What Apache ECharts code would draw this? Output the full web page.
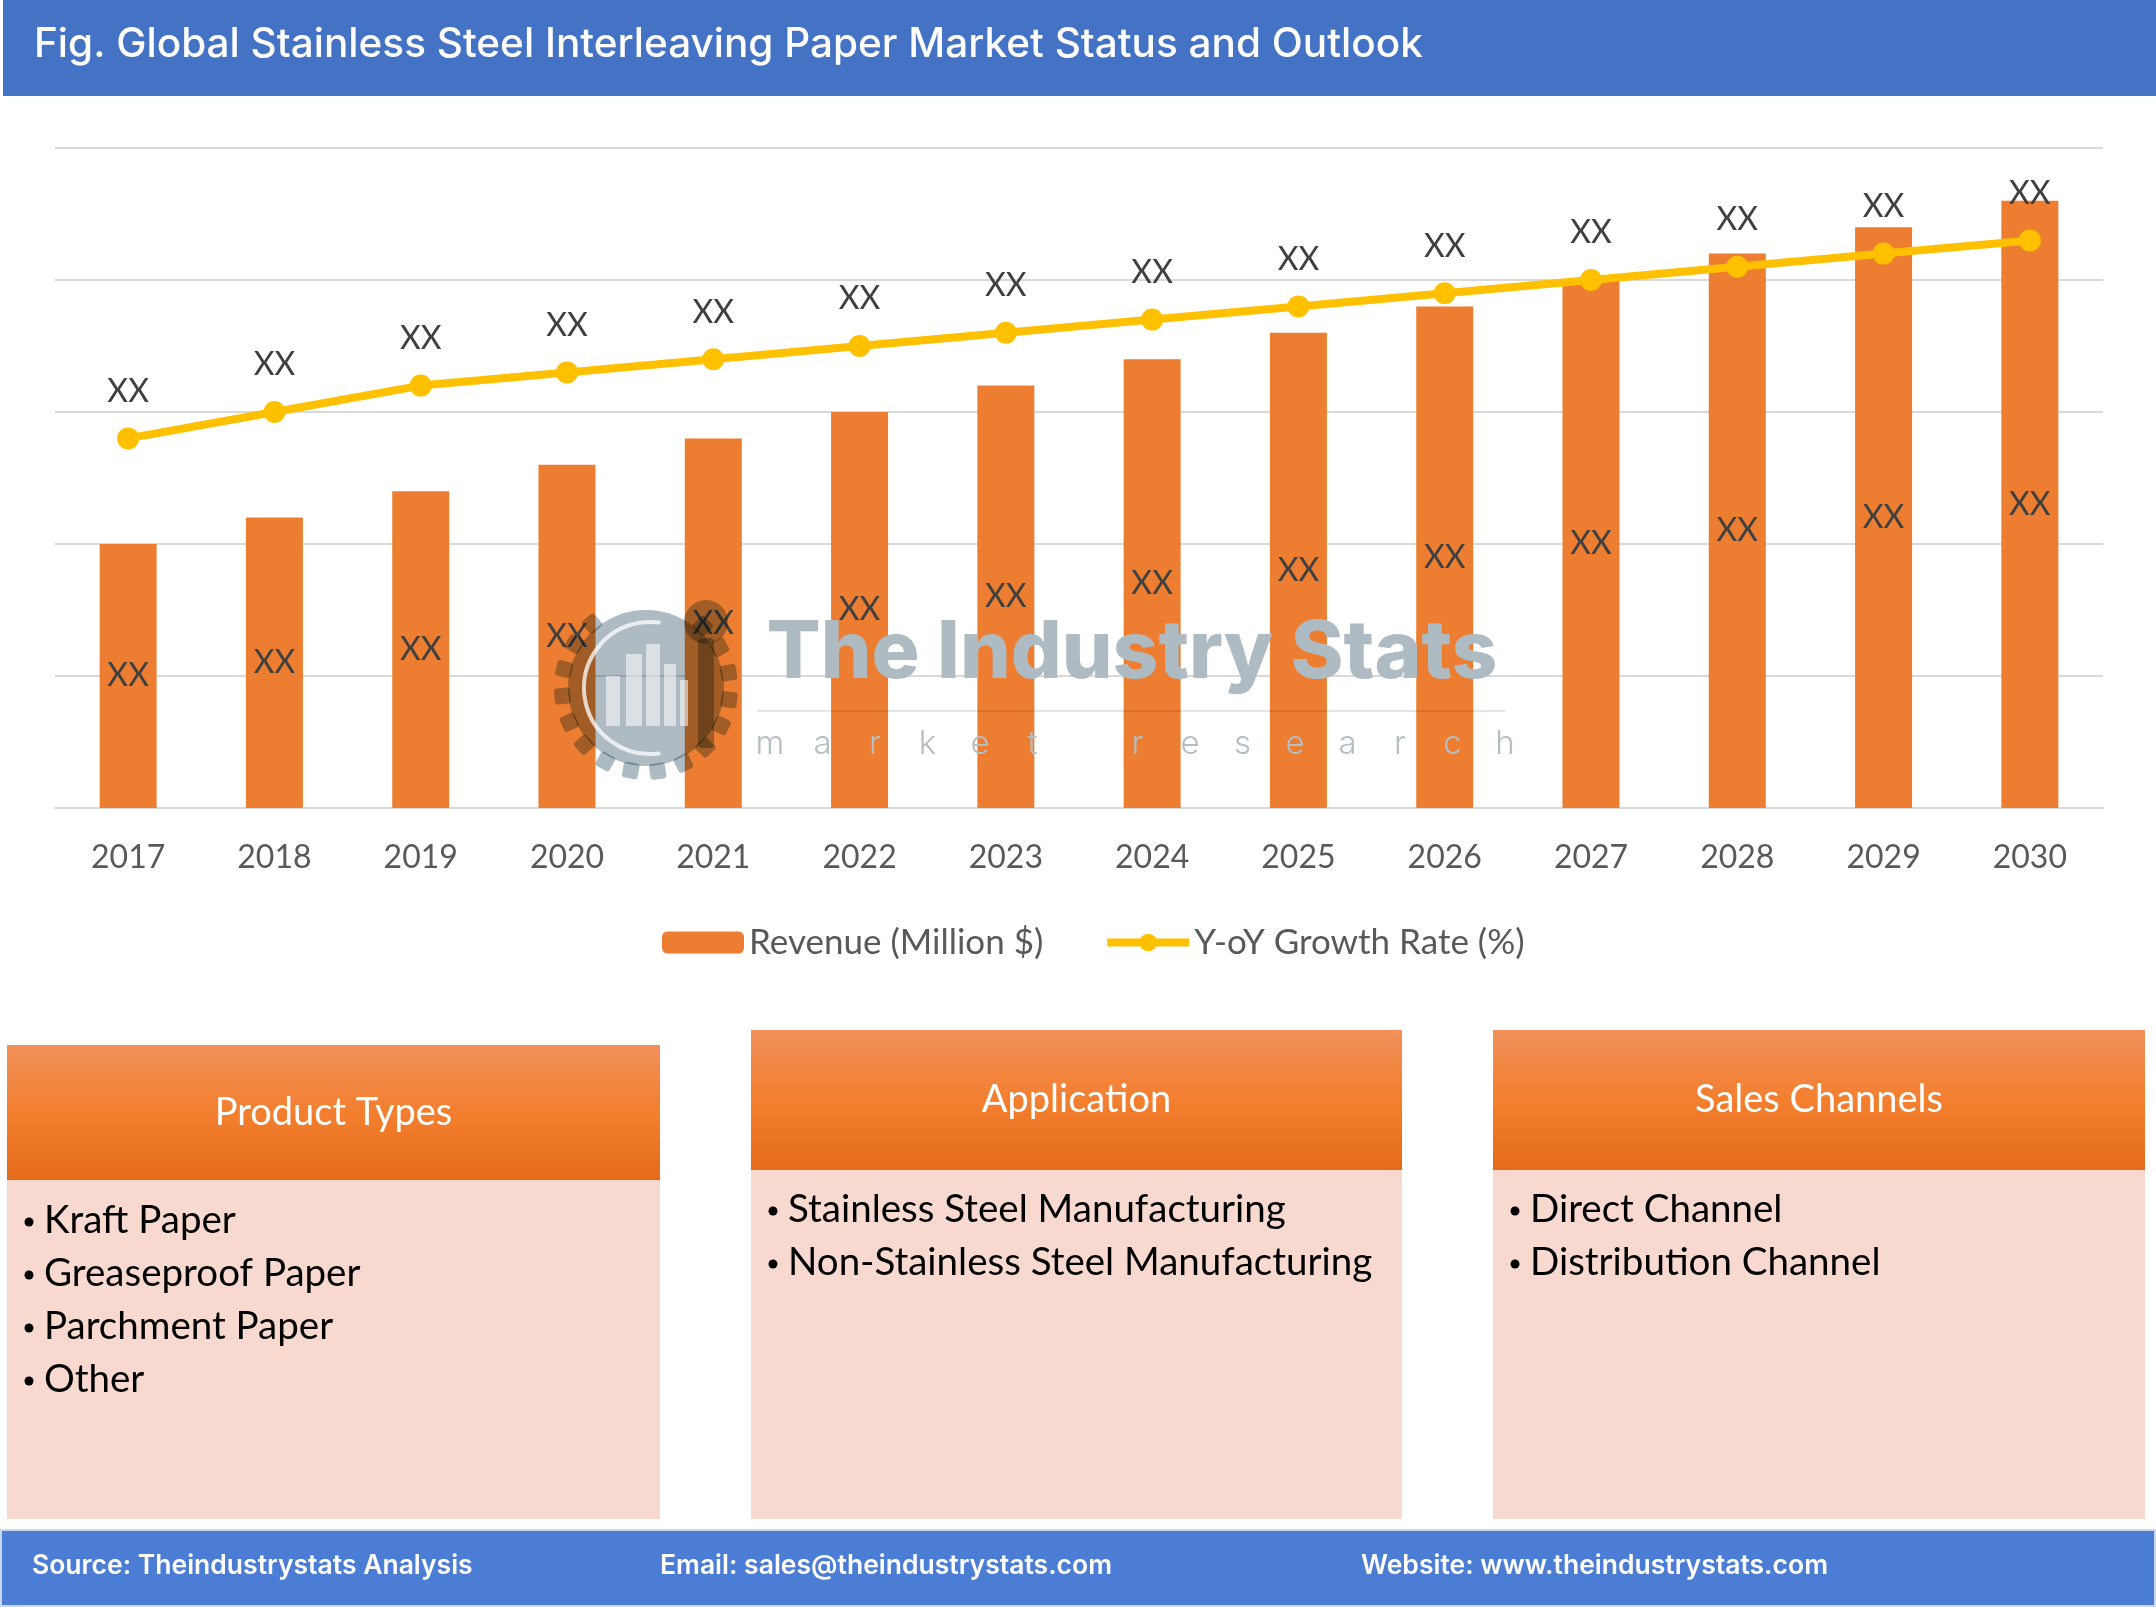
<!DOCTYPE html>
<html><head><meta charset="utf-8">
<script src="https://cdn.jsdelivr.net/npm/echarts@6.0.0/dist/echarts.min.js"></script>
<style>html,body{margin:0;padding:0;background:#fff}#c{width:2156px;height:1607px}</style>
</head><body><div id="c"></div>
<script>
// ---- data ----
const years = ['2017','2018','2019','2020','2021','2022','2023','2024','2025','2026','2027','2028','2029','2030'];
const revenue = [20, 22, 24, 26, 28, 30, 32, 34, 36, 38, 40, 42, 44, 46];
const growth = [2.8, 3.0, 3.2, 3.3, 3.4, 3.5, 3.6, 3.7, 3.8, 3.9, 4.0, 4.1, 4.2, 4.3];
const pointLabel = 'XX';
const seriesNames = ['Revenue (Million $)', 'Y-oY Growth Rate (%)'];
const titleText = 'Fig. Global Stainless Steel Interleaving Paper Market Status and Outlook';
const productTypes = ['Kraft Paper', 'Greaseproof Paper', 'Parchment Paper', 'Other'];
const applications = ['Stainless Steel Manufacturing', 'Non-Stainless Steel Manufacturing'];
const salesChannels = ['Direct Channel', 'Distribution Channel'];
const footerTexts = ['Source: Theindustrystats Analysis', 'Email: sales@theindustrystats.com', 'Website: www.theindustrystats.com'];
const watermarkMain = 'The Industry Stats';
const watermarkSub = 'market research';

// ---- layout / style ----
const FONT = 'Lato, "Open Sans", sans-serif';
const chart = echarts.init(document.getElementById('c'), null, {renderer: 'canvas', width: 2156, height: 1607});

const graphics = [];
// title bar
graphics.push({type: 'rect', shape: {x: 3, y: 0, width: 2153, height: 96}, style: {fill: '#4472C4'}, z: 1});
graphics.push({type: 'text', x: 34, y: 45, style: {text: titleText, fill: '#fff', font: '500 40.5px Inter, sans-serif', textVerticalAlign: 'middle'}, z: 2});

// boxes
const headerGrad = new echarts.graphic.LinearGradient(0, 0, 0, 1, [
  {offset: 0, color: '#F0905A'}, {offset: 0.5, color: '#F37F2F'}, {offset: 1, color: '#E46B1A'}]);
function box(x, w, hy, hh, by, title, items, itemY0) {
  graphics.push({type: 'rect', shape: {x: x, y: by, width: w, height: 1519 - by}, style: {fill: '#F8D9CF'}, z: 1});
  graphics.push({type: 'rect', shape: {x: x, y: hy, width: w, height: hh}, style: {fill: headerGrad}, z: 2});
  graphics.push({type: 'text', x: x + w / 2, y: hy + hh / 2, style: {text: title, fill: '#fff', font: '38px ' + FONT, textAlign: 'center', textVerticalAlign: 'middle'}, z: 3});
  items.forEach(function (t, i) {
    const yy = itemY0 + i * 53;
    graphics.push({type: 'circle', shape: {cx: x + 22, cy: yy + 1, r: 4.5}, style: {fill: '#000'}, z: 3});
    graphics.push({type: 'text', x: x + 37, y: yy, style: {text: t, fill: '#000', font: '38.5px ' + FONT, textVerticalAlign: 'middle'}, z: 3});
  });
}
box(7, 653, 1045, 135, 1180, 'Product Types', productTypes, 1221);
box(751, 651, 1030, 140, 1170, 'Application', applications, 1210);
box(1493, 652, 1030, 140, 1170, 'Sales Channels', salesChannels, 1210);

// footer
graphics.push({type: 'rect', shape: {x: 1, y: 1530, width: 2154, height: 76}, style: {fill: '#4C7DD5', stroke: '#C8D6EE', lineWidth: 2}, z: 1});
[32, 660, 1361].forEach(function (fx, i) {
  graphics.push({type: 'text', x: fx, y: 1566, style: {text: footerTexts[i], fill: '#fff', font: '600 26.5px Inter, sans-serif', textVerticalAlign: 'middle'}, z: 2});
});

// watermark (multiply blended over the plot)
const WZ = 100;
const wmGray = '#AEBBC3';
graphics.push({type: 'text', x: 1132, y: 654, z: WZ, style: {text: watermarkMain, fill: wmGray, blend: 'multiply', font: '800 80px Inter, sans-serif', textAlign: 'center', textVerticalAlign: 'middle'}});
graphics.push({type: 'line', z: WZ, shape: {x1: 757, y1: 711, x2: 1505, y2: 711}, style: {stroke: '#E3E6E9', lineWidth: 2, blend: 'multiply'}});
watermarkSub.split('').forEach(function (ch, i) {
  graphics.push({type: 'text', x: 770 + i * 52.5, y: 744, z: WZ, style: {text: ch, fill: '#B3BEC5', blend: 'multiply', font: '300 33px Inter, sans-serif', textAlign: 'center', textVerticalAlign: 'middle'}});
});
// gear logo
const gcx = 646, gcy = 688;
for (let i = 0; i < 16; i++) {
  const deg = 40 + i * 18.5;
  if (deg > 320) break;
  const a = deg / 180 * Math.PI;
  graphics.push({type: 'rect', z: WZ, x: gcx, y: gcy, rotation: a, shape: {x: -8, y: -92, width: 16, height: 16, r: 3}, style: {fill: wmGray, blend: 'multiply'}});
}
graphics.push({type: 'circle', z: WZ, shape: {cx: gcx, cy: gcy, r: 78}, style: {fill: wmGray, blend: 'multiply'}});
graphics.push({type: 'arc', z: WZ + 1, shape: {cx: gcx + 4, cy: gcy, r: 66, startAngle: Math.PI * 0.45, endAngle: Math.PI * 1.55}, style: {stroke: 'rgba(255,255,255,0.75)', lineWidth: 4, fill: null}});
[[-40, 14, 50], [-20, 16, 72], [0, 14, 82], [18, 12, 62], [34, 8, 46]].forEach(function (b) {
  graphics.push({type: 'rect', z: WZ + 1, shape: {x: gcx + b[0], y: gcy + 38 - b[2], width: b[1], height: b[2]}, style: {fill: 'rgba(255,255,255,0.55)'}});
});
graphics.push({type: 'rect', z: WZ, shape: {x: gcx + 52, y: gcy - 50, width: 16, height: 110, r: 4}, style: {fill: wmGray, blend: 'multiply'}});
graphics.push({type: 'circle', z: WZ, shape: {cx: gcx + 60, cy: gcy - 66, r: 22}, style: {fill: wmGray, blend: 'multiply'}});

const option = {
  backgroundColor: '#fff',
  animation: false,
  textStyle: {fontFamily: FONT},
  grid: {left: 55, right: 53, top: 148, height: 660, containLabel: false},
  legend: {
    data: seriesNames, left: 657, top: 920, itemWidth: 82, itemHeight: 22, itemGap: 60,
    lineStyle: {width: 8},
    textStyle: {fontFamily: FONT, fontSize: 35, color: '#595959'}
  },
  xAxis: {
    type: 'category', data: years,
    axisLine: {show: true, lineStyle: {color: '#D9D9D9', width: 2}},
    axisTick: {show: false},
    axisLabel: {fontFamily: FONT, fontSize: 32, color: '#595959', margin: 34}
  },
  yAxis: [
    {type: 'value', min: 0, max: 50, interval: 10,
      axisLabel: {show: false}, axisLine: {show: false}, axisTick: {show: false},
      splitLine: {lineStyle: {color: '#D9D9D9', width: 2}}},
    {type: 'value', min: 0, max: 5, interval: 1, show: false, splitLine: {show: false}}
  ],
  series: [
    {name: seriesNames[0], type: 'bar', data: revenue, barWidth: 57, yAxisIndex: 0,
      itemStyle: {color: '#ED7D31'},
      label: {show: true, position: 'inside', formatter: pointLabel, fontFamily: FONT, fontSize: 32, color: '#404040'}, z: 2},
    {name: seriesNames[1], type: 'line', data: growth, yAxisIndex: 1,
      symbol: 'circle', symbolSize: 22,
      lineStyle: {color: '#FFC000', width: 8}, itemStyle: {color: '#FFC000'},
      label: {show: true, position: 'top', distance: 20, formatter: pointLabel, fontFamily: FONT, fontSize: 32, color: '#404040'}, z: 3}
  ],
  graphic: graphics
};
chart.setOption(option);
</script>
</body></html>
